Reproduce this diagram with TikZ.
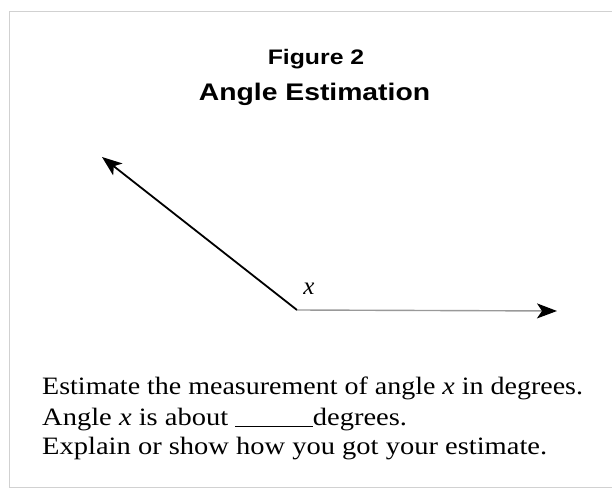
\documentclass[tikz,border=0pt]{standalone}
\usepackage{fontspec}
\setmainfont{Liberation Serif}
\setsansfont{Liberation Sans}
\usetikzlibrary{arrows.meta}
\begin{document}
\begin{tikzpicture}[x=1pt,y=-1pt,
  frameline/.style={draw=black!18, line width=1pt},
  tip/.style={-{Stealth[length=20pt,width=15pt,inset=5pt,color=black,fill=black]}},
  body/.style={anchor=base west, font=\fontsize{25}{30}\selectfont, inner sep=0pt, xscale=1.14},
  head/.style={anchor=base, inner sep=0pt, xscale=1.18}]
\useasboundingbox (0,0) rectangle (614,497);
\draw[frameline] (9,487) -- (9,12) -- (612,12);
\draw[frameline] (9,487) -- (612,487);
\node[head, font=\sffamily\bfseries\fontsize{21}{25}\selectfont] (fig) at (316,65) {Figure 2};
\node[head, font=\sffamily\bfseries\fontsize{24}{29}\selectfont] (title) at (314.5,101) {Angle Estimation};
\coordinate (v) at (297,310);
\coordinate (a) at (102,157);
\coordinate (b) at (557,311);
\draw[line width=1.8pt, tip] (v) -- (a);
\draw[line width=1.4pt, draw=black!40, tip] (v) -- (b);
\node[font=\fontsize{25}{30}\selectfont\itshape, anchor=base, inner sep=0pt] (xl) at (309,295) {x};
\node[body, xscale=0.982] (l1) at (42,395) {Estimate the measurement of angle \textit{x} in degrees.};
\node[body] (l2) at (42,425) {Angle \textit{x} is about \underline{\hspace{68pt}}degrees.};
\node[body] (l3) at (42,455) {Explain or show how you got your estimate.};
\end{tikzpicture}
\end{document}
